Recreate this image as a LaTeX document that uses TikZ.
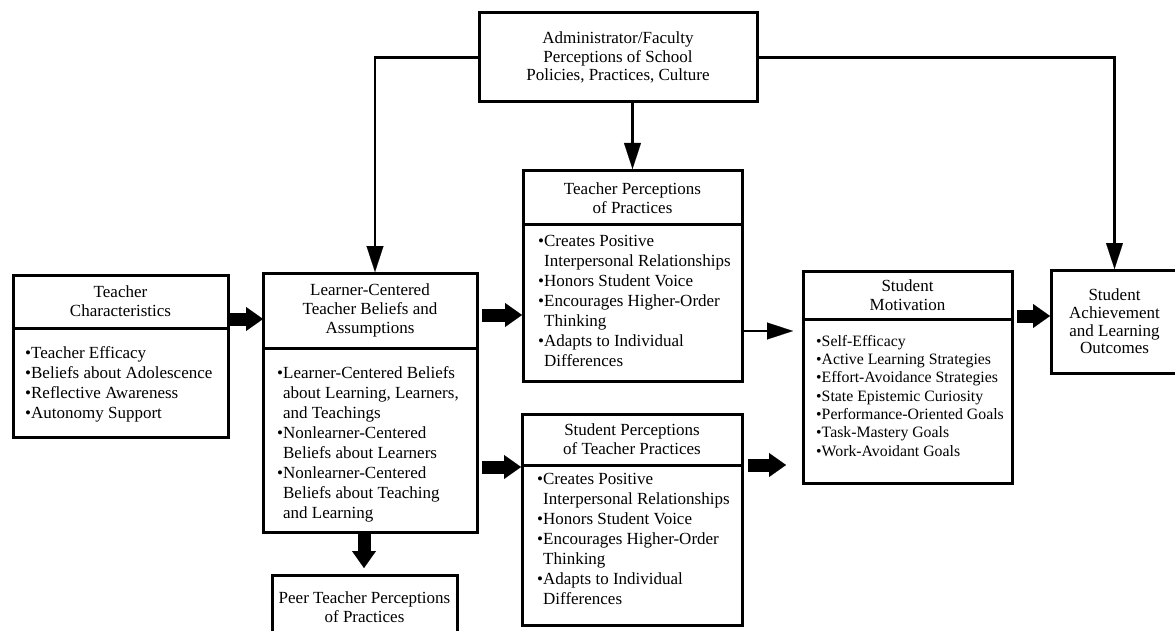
\documentclass[tikz,border=0pt]{standalone}
\usepackage{fontspec}
\setmainfont{Liberation Serif}
\usetikzlibrary{arrows.meta}
\newcommand\hdrfont{\fontsize{17}{18.8}\selectfont}
\newcommand\lstfont{\fontsize{17}{20}\selectfont}
\newcommand\smlfont{\fontsize{15.8}{18.3}\selectfont}
\newcommand\ind{\hphantom{•}}
\begin{document}
\begin{tikzpicture}[x=1pt,y=-1pt,
  box/.style={draw, line width=3pt, inner sep=0pt, outer sep=0pt, anchor=north west, align=center, font=\hdrfont},
  lst/.style={align=left, inner sep=0pt, anchor=north west, font=\lstfont},
  thinarr/.style={line width=2.6pt, -{Triangle[length=26pt,width=17pt,line width=0.1pt]}},
  fat/.style={line width=13pt, -{Triangle[length=17pt,width=24pt,line width=0.1pt]}}]
\fill[white] (0,0) rectangle (1175,631);
\useasboundingbox (0,0) rectangle (1175,631);
\begin{scope}
\clip (0,0) rectangle (1175,631);
% administrator box
\node[box, minimum width=278pt, minimum height=89pt] (admin) at (479,13)
  {Administrator/Faculty\\Perceptions of School\\Policies, Practices, Culture};
% teacher characteristics
\node[box, minimum width=215pt, minimum height=53pt] (tcH) at (13,275) {Teacher\\Characteristics};
\node[box, minimum width=215pt, minimum height=109pt] (tcB) at (tcH.south west) {};
\node[lst] (tcL) at (25,346) {•Teacher Efficacy\\•Beliefs about Adolescence\\•Reflective Awareness\\•Autonomy Support};
% learner-centered beliefs
\node[box, minimum width=214pt, minimum height=75pt] (lcH) at (263,273) {Learner-Centered\\Teacher Beliefs and\\Assumptions};
\node[box, minimum width=214pt, minimum height=184pt] (lcB) at (lcH.south west) {};
\node[lst] (lcL) at (277,366) {•Learner-Centered Beliefs\\\ind about Learning, Learners,\\\ind and Teachings\\•Nonlearner-Centered\\\ind Beliefs about Learners\\•Nonlearner-Centered\\\ind Beliefs about Teaching\\\ind and Learning};
% teacher perceptions
\node[box, minimum width=219pt, minimum height=54pt] (tpH) at (523,171) {Teacher Perceptions\\of Practices};
\node[box, minimum width=219pt, minimum height=156pt] (tpB) at (tpH.south west) {};
\node[lst] (tpL) at (538,235) {•Creates Positive\\\ind Interpersonal Relationships\\•Honors Student Voice\\•Encourages Higher-Order\\\ind Thinking\\•Adapts to Individual\\\ind Differences};
% student perceptions
\node[box, minimum width=220pt, minimum height=51pt] (spH) at (522,414) {Student Perceptions\\of Teacher Practices};
\node[box, minimum width=220pt, minimum height=160pt] (spB) at (spH.south west) {};
\node[lst] (spL) at (537,473) {•Creates Positive\\\ind Interpersonal Relationships\\•Honors Student Voice\\•Encourages Higher-Order\\\ind Thinking\\•Adapts to Individual\\\ind Differences};
% student motivation
\node[box, minimum width=209pt, minimum height=48pt] (smH) at (803,271) {Student\\Motivation};
\node[box, minimum width=209pt, minimum height=164pt] (smB) at (smH.south west) {};
\node[lst, font=\smlfont] (smL) at (816,335) {•Self-Efficacy\\•Active Learning Strategies\\•Effort-Avoidance Strategies\\•State Epistemic Curiosity\\•Performance-Oriented Goals\\•Task-Mastery Goals\\•Work-Avoidant Goals};
% student achievement
\node[box, minimum width=127pt, minimum height=103pt, font=\fontsize{17}{17.7}\selectfont] (sa) at (1051,270) {Student\\Achievement\\and Learning\\Outcomes};
% peer teacher perceptions
\node[box, minimum width=185pt, minimum height=64pt] (peer) at (272,575) {Peer Teacher Perceptions\\of Practices};
\end{scope}
% connectors
\draw[thinarr, shorten >=1pt] (admin.west) -| ([xshift=5pt]lcH.north);
\draw[thinarr, shorten >=1pt] (admin.east) -| (sa.north);
\draw[thinarr, shorten >=2pt] (admin.south -| tpH.north) -- (tpH.north);
\draw[thinarr, shorten <=2pt, shorten >=10pt] (tpB.east |- 0,331) -- (smB.west |- 0,331);
\draw[fat, shorten <=1.5pt] (tcH.east |- 0,319) -- (lcH.west |- 0,319);
\draw[fat, shorten <=5pt, shorten >=1pt] (lcH.east |- 0,315) -- (tpB.west |- 0,315);
\draw[fat, shorten <=5pt, shorten >=1pt] (lcB.east |- 0,467) -- (spB.west |- 0,467);
\draw[fat, shorten <=6pt, shorten >=17pt] (spB.east |- 0,465) -- (smB.west |- 0,465);
\draw[fat, shorten <=5pt, shorten >=1pt] (smH.east |- 0,316) -- (sa.west |- 0,316);
\draw[fat, shorten >=7pt] (lcB.south -| 364,0) -- (peer.north -| 364,0);
\end{tikzpicture}
\end{document}
